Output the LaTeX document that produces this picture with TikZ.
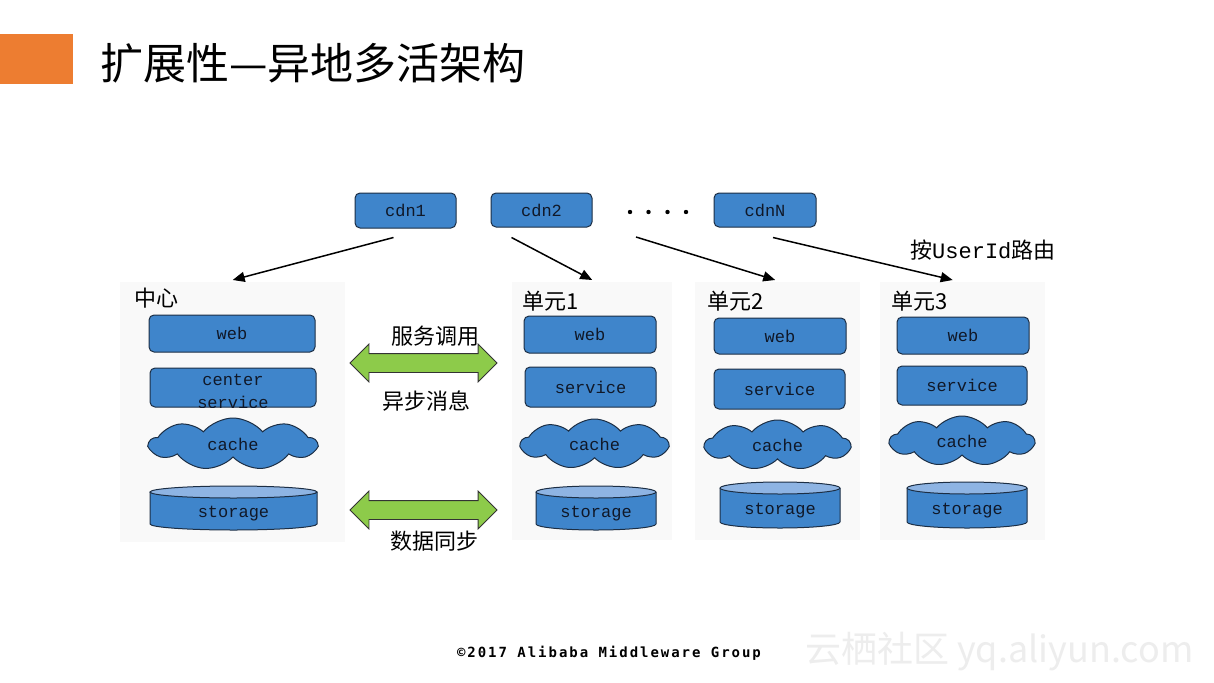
\documentclass[tikz,border=0pt]{standalone}
\usepackage{fontspec}
\usetikzlibrary{shapes.symbols,shapes.arrows,arrows.meta}
\newfontfamily\cjk{Noto Sans CJK SC}
\newfontfamily\lmono{Liberation Mono}
\newfontfamily\dmono[LetterSpace=14]{DejaVu Sans Mono Bold}
\definecolor{boxblue}{HTML}{3F85CB}
\definecolor{boxline}{HTML}{1C2E44}
\definecolor{toplight}{HTML}{8EB4E3}
\definecolor{panelgray}{HTML}{F9F9F9}
\definecolor{syncgreen}{HTML}{8DCB4A}
\definecolor{titleorange}{HTML}{ED7D31}
\definecolor{txtdark}{HTML}{101828}
\newcommand\storagecyl[5]{% name, cx, ytop, halfwidth, ybottom
  \fill[boxblue] (#2-#4,#3+6) -- (#2-#4,#5-6) arc[start angle=180,end angle=0,x radius=#4,y radius=6] -- (#2+#4,#3+6) -- cycle;
  \draw[boxline,line width=1pt] (#2-#4,#3+6) -- (#2-#4,#5-6) arc[start angle=180,end angle=0,x radius=#4,y radius=6] -- (#2+#4,#3+6);
  \draw[boxline,line width=1pt,fill=toplight] (#2,#3+6) ellipse[x radius=#4,y radius=6];
  \node[boxtext] (#1) at (#2,{(#3+#5)/2+6}) {storage};
}
\begin{document}
\begin{tikzpicture}[x=1pt,y=-1pt,
  panel/.style={rectangle,fill=panelgray,draw=none,anchor=north west,inner sep=0},
  boxtext/.style={font=\lmono\fontsize{17}{20}\selectfont,text=txtdark,inner sep=0},
  blkbox/.style={rectangle,rounded corners=5pt,draw=boxline,line width=1pt,fill=boxblue,boxtext},
  cloudbox/.style={cloud,cloud puffs=9,cloud puff arc=100,aspect=3,draw=boxline,line width=1pt,fill=boxblue,boxtext},
  zh/.style={font=\cjk\fontsize{22}{26}\selectfont,inner sep=0,text=black},
  flow/.style={line width=1.5pt,-{Triangle[length=12pt,width=10pt]}},
  sync/.style={double arrow,draw=black!80,line width=0.8pt,fill=syncgreen,minimum height=147pt,minimum width=37pt,double arrow head extend=9.5pt,inner xsep=0pt,inner ysep=9pt}
]
\fill[white] (0,0) rectangle (1214,682);
\useasboundingbox (0,0) rectangle (1214,682);

% title
\fill[titleorange] (0,34) rectangle (73,84);
\node[anchor=west,inner sep=0,font=\cjk\fontsize{43}{48}\selectfont] (title) at (100,63) {扩展性—异地多活架构};

% panels
\node[panel,minimum width=225pt,minimum height=260pt] (p0) at (120,282) {};
\node[panel,minimum width=160pt,minimum height=258pt] (p1) at (512,282) {};
\node[panel,minimum width=165pt,minimum height=258pt] (p2) at (695,282) {};
\node[panel,minimum width=165pt,minimum height=258pt] (p3) at (880,282) {};

% cdn
\node[blkbox,minimum width=101pt,minimum height=35pt] (cdn1) at (405.5,210.5) {cdn1};
\node[blkbox,minimum width=101pt,minimum height=34pt] (cdn2) at (541.5,210) {cdn2};
\node[blkbox,minimum width=102pt,minimum height=34pt] (cdnN) at (765,210) {cdnN};
\coordinate (dots) at (658,212);
\foreach \dx in {-28,-9.5,9.5,28} \fill[black] ([xshift=\dx pt]dots) circle[radius=2.2];

% panel labels
\node[zh,anchor=west] (l0) at (134,298) {中心};
\node[zh,anchor=west] (l1) at (522,301) {单元1};
\node[zh,anchor=west] (l2) at (707,301) {单元2};
\node[zh,anchor=west] (l3) at (891,301) {单元3};

% center
\node[blkbox,minimum width=166pt,minimum height=37pt] (w0) at (232,333.5) {web};
\node[blkbox,minimum width=166pt,minimum height=39pt] (s0) at (233,387.5) {};
\begin{scope}
  \clip[rounded corners=5pt] (s0.north west) rectangle (s0.south east);
  \node[boxtext,align=center] (s0t) at (233,391) {center\\[3pt]service};
\end{scope}
\node[cloudbox,minimum width=167pt,minimum height=52pt] (c0) at (233,444) {cache};
\storagecyl{d0}{233.5}{486}{83.5}{530}

% unit1
\node[blkbox,minimum width=132pt,minimum height=37pt] (w1) at (590,334.5) {web};
\node[blkbox,minimum width=131pt,minimum height=40pt] (s1) at (590.5,387) {service};
\node[cloudbox,minimum width=147pt,minimum height=50pt] (c1) at (594.5,444) {cache};
\storagecyl{d1}{596}{486}{60}{530}

% unit2
\node[blkbox,minimum width=132pt,minimum height=36pt] (w2) at (780,336) {web};
\node[blkbox,minimum width=131pt,minimum height=40pt] (s2) at (779.5,389) {service};
\node[cloudbox,minimum width=145pt,minimum height=50pt] (c2) at (777.5,445) {cache};
\storagecyl{d2}{780}{482}{60}{528}

% unit3
\node[blkbox,minimum width=132pt,minimum height=37pt] (w3) at (963,335.5) {web};
\node[blkbox,minimum width=130pt,minimum height=39pt] (s3) at (962,385.5) {service};
\node[cloudbox,minimum width=144pt,minimum height=50pt] (c3) at (962,441) {cache};
\storagecyl{d3}{967}{482}{60}{528}

% routing arrows
\coordinate (st1) at ([xshift=-12pt,yshift=-9pt]cdn1.south);
\coordinate (st2) at ([xshift=-30pt,yshift=-10pt]cdn2.south);
\coordinate (st3) at ([xshift=-22pt,yshift=-25pt]dots);
\coordinate (st4) at ([xshift=8pt,yshift=-10pt]cdnN.south);
\draw[flow] (st1) -- ([yshift=2pt]p0.north);
\draw[flow] (st2) -- ([yshift=2pt]p1.north);
\draw[flow] (st3) -- ([xshift=-2.5pt,yshift=2pt]p2.north);
\draw[flow] (st4) -- ([xshift=-10pt,yshift=2pt]p3.north);
\node[zh,anchor=west] (route) at (910,250) {按{\lmono UserId}路由};

% sync arrows
\node[sync] (call) at (423.5,363) {};
\node[sync] (data) at (423.5,510) {};
\node[zh] (lcall) at (435,336) {服务调用};
\node[zh] (lmsg) at (426,401) {异步消息};
\node[zh] (ldata) at (434,541) {数据同步};

% footer
\node[inner sep=0,font=\dmono\fontsize{14}{16}\selectfont] (foot) at (609,653) {©2017 Alibaba Middleware Group};
\node[inner sep=0,anchor=west,text=black!7,font=\cjk\fontsize{36}{40}\selectfont] (wm) at (805,652) {云栖社区 yq.aliyun.com};
\end{tikzpicture}
\end{document}
